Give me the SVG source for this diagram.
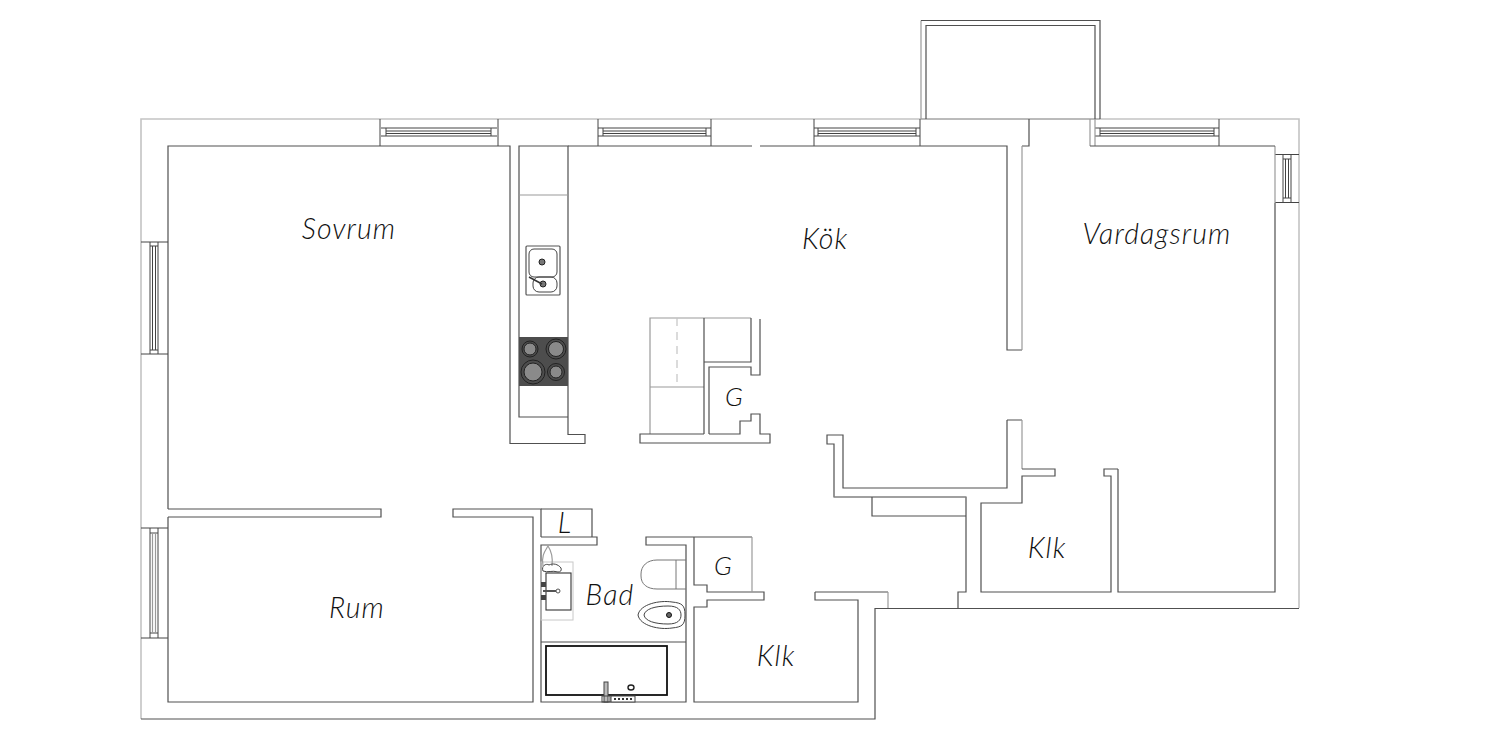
<svg xmlns="http://www.w3.org/2000/svg" width="1500" height="745" viewBox="0 0 1500 745">
<style>
.w{fill:none;stroke:#505050;stroke-width:1.2}
.h{fill:none;stroke:#777;stroke-width:1}
.l{fill:none;stroke:#9a9a9a;stroke-width:1.2}
.o{fill:none;stroke:#c4c4c4;stroke-width:1.6}
.t{fill:none;stroke:#444;stroke-width:1}
.k{fill:#8a8a8a;stroke:#222;stroke-width:1}
.r{font-family:"Lato","Open Sans","Liberation Sans",sans-serif;font-style:italic;font-weight:300;font-size:28.5px;letter-spacing:1.1px;fill:#111;text-anchor:middle}
.g{font-size:26px;letter-spacing:0}
</style>
<rect width="1500" height="745" fill="#fff"/>
<g id="outer-walls">
<path class="o" d="M141 719V119H921M1100 119H1299V608"/>
<path class="w" d="M141 719H875V608.500H1299"/>
<path class="h" d="M921 119H1100"/>
</g>
<g id="balcony">
<path class="l" d="M921 119V20.500"/>
<path class="w" d="M921 20.500H1100V119"/>
<path class="w" d="M926 119V25.500H1095V119"/>
</g>
<g id="sovrum">
<path class="w" d="M168 509V146H510V443.500H585V434.500H568V146H519V417H568"/>
<path class="w" d="M168 509H381V517H168"/>
<path class="l" d="M519 195H568"/>
<text class="r" x="349" y="239">Sovrum</text>
</g>
<g id="top-windows">
<path class="t" d="M380 119V146M498 119V146M381 128H497M381 136H497M386 128V136M491 128V136M386 131H491M386 133.500H491"/>
<path class="t" d="M598 119V146M711 119V146M598 128H711M598 136H711M603 128V136M706 128V136M603 131H706M603 133.500H706"/>
<path class="t" d="M814 119V146M920 119V146M814 128H920M814 136H920M818 128V136M916 128V136M818 131H916M818 133.500H916"/>
<path class="t" d="M1095 128H1219M1095 136H1219M1100 128V136M1214 128V136M1100 131H1214M1100 133.500H1214M1219 119V146"/>
<path class="l" d="M1090 119V146M1095 119V146"/>
</g>
<g id="side-windows">
<path class="t" d="M141 242H168M150 242V354M158 242V354M141 354H168M150 246H158M150 350H158M152.500 246V350M155.500 246V350"/>
<path class="t" d="M141 528H168M150 528V638M158 528V638M141 638H168M150 533H158M150 633H158"/>
<path class="l" d="M152.500 533V633M155.500 533V633"/>
<path class="t" d="M1275 154.500H1299M1283 154.500V202.500M1291 154.500V202.500M1275 202.500H1299M1283 159H1291M1283 198H1291M1285.500 159V198M1288.500 159V198"/>
<path class="l" d="M1275 146V203"/>
</g>
<g id="kok">
<path class="w" d="M568 146H752M760 146H1007V350H1022M1022 146H1029V119M1090 146H1275"/>
<text class="r" x="825" y="249">Kök</text>
</g>
<g id="sink">
<rect x="526" y="246" width="34" height="49" rx="1" fill="#fff" stroke="#555" stroke-width="1.2"/>
<rect x="529" y="249" width="28" height="28" rx="5" class="t"/>
<rect x="533" y="277" width="24" height="15" rx="6" class="t"/>
<circle cx="542" cy="262" r="3" fill="#777" stroke="#222"/>
<circle cx="543" cy="284" r="3" fill="#777" stroke="#222"/>
<path d="M529 277L542 284" stroke="#333" stroke-width="1.6"/>
</g>
<g id="hob">
<rect x="519" y="337" width="49" height="49" fill="#4d4d4d"/>
<circle cx="530" cy="349" r="6" class="k"/><circle cx="530" cy="349" r="8" fill="none" stroke="#222"/>
<circle cx="556" cy="349" r="7.500" class="k"/><circle cx="556" cy="349" r="10" fill="none" stroke="#222"/>
<circle cx="533" cy="372" r="9" class="k"/><circle cx="533" cy="372" r="12" fill="none" stroke="#222"/>
<circle cx="556" cy="372" r="6" class="k"/><circle cx="556" cy="372" r="8.500" fill="none" stroke="#222"/>
</g>
<g id="island">
<path class="l" d="M650 434V318H751M650 387H704"/>
<path class="l" stroke-dasharray="8 6" d="M677 318V387" style="stroke:#c4c4c4"/>
<path class="w" d="M704 434V318M704 362H751V318"/>
<path class="w" d="M760 319V375H751V367H709V434M704 434H640V443H770V434H760V414H751V421H740V434H709"/>
<text class="r g" x="734" y="406">G</text>
</g>
<g id="hall-walls">
<path class="w" d="M1007 420H1022M1007 420V488H843V435H827V444H834V497H966V592H958V608.500"/>
<path class="l" d="M834 497H966"/>
<path class="w" d="M872 497V516H966"/>
<path class="w" d="M815 592H888M815 592V600H858V702H694V607H707V600H764V592H707V585H694V537M752 537H646V545H686V702H541V545H597V537H541"/>
<path class="l" d="M888 592V608"/>
</g>
<g id="vardagsrum">
<path class="l" d="M1022 146V350M1022 420V469"/>
<path class="w" d="M1118 469V592H1275V203"/>
<text class="r" x="1157" y="244">Vardagsrum</text>
</g>
<g id="klk-right">
<path class="w" d="M1022 469H1055V476H1022V503H981V592H1111V476H1104V469H1118"/>
<text class="r" x="1047" y="558">Klk</text>
</g>
<g id="rum">
<path class="w" d="M168 517V702H533V517H453V509H541V537"/>
<text class="r" x="357" y="618">Rum</text>
</g>
<g id="linen">
<path class="w" d="M541 509H592V537"/>
<text class="r" x="565" y="533">L</text>
</g>
<g id="bad">
<path class="w" d="M541 642H686"/>
<rect x="546" y="646" width="121" height="49" fill="none" stroke="#111" stroke-width="1.8"/>
<rect x="604" y="682" width="4" height="20" fill="#bbb" stroke="#444"/>
<rect x="602" y="696" width="8" height="6" fill="none" stroke="#444"/>
<rect x="611" y="696" width="24" height="6" fill="#fff" stroke="#444"/>
<path d="M614 699H633" stroke="#333" stroke-width="2" stroke-dasharray="2 2"/>
<ellipse cx="631" cy="687.500" rx="3" ry="2.500" fill="#fff" stroke="#222" stroke-width="1.400"/>
<rect x="541" y="562" width="32" height="58" fill="none" stroke="#c8c8c8"/>
<rect x="546" y="573" width="25" height="37" fill="#fff" stroke="#333" stroke-width="1.1"/>
<path d="M543 591H556" stroke="#555" stroke-width="2"/><circle cx="558" cy="591" r="2" fill="#fff" stroke="#555"/>
<rect x="541" y="582" width="5" height="5" fill="#444"/><rect x="541" y="595" width="5" height="5" fill="#444"/>
<path class="l" d="M543 566C541 556 545 551 548 546C552 552 553 558 552 566"/>
<path class="t" d="M543 571C541 566 546 563 549 565C553 563 558 564 561 568C562 571 560 572 558 572C552 570 548 573 543 571Z"/>
<path class="h" d="M686 560H657C647 560 641 566 641 574V576C641 584 647 589 657 589H686M676 560V589"/>
<path class="t" d="M638 615C640 604 660 600 672 602 682 603 685 605 685 615 685 625 682 627 672 628 660 630 640 626 638 615Z"/>
<path class="t" d="M644 615C645 609 655 606 668 606 678 606 681 610 681 615 681 620 678 624 668 624 655 624 645 621 644 615Z"/>
<circle cx="669" cy="615" r="2.500" fill="#666" stroke="#111"/>
<text class="r" x="610" y="605">Bad</text>
</g>
<g id="wardrobe-bad">
<path class="l" d="M752 537V592"/>
<text class="r g" x="723" y="575">G</text>
</g>
<g id="klk-left">
<text class="r" x="776" y="666">Klk</text>
</g>
</svg>
